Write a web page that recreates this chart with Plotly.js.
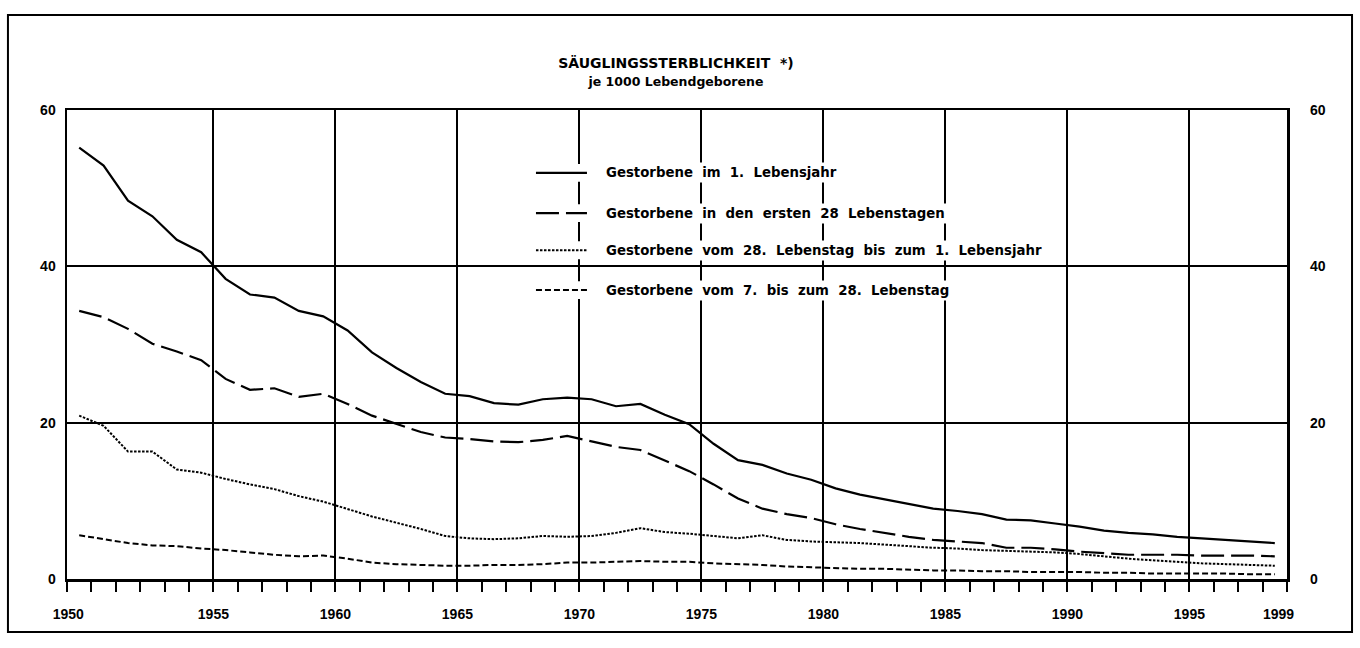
<!DOCTYPE html>
<html>
<head>
<meta charset="utf-8">
<script src="https://cdn.plot.ly/plotly-3.0.1.min.js"></script>
<style>
  html, body { margin: 0; padding: 0; background: #ffffff; }
  #chart { width: 1360px; height: 648px; }
</style>
</head>
<body>
<div id="chart"></div>
<script>
// ---------------- data ----------------
const years = [1950, 1951, 1952, 1953, 1954, 1955, 1956, 1957, 1958, 1959,
               1960, 1961, 1962, 1963, 1964, 1965, 1966, 1967, 1968, 1969,
               1970, 1971, 1972, 1973, 1974, 1975, 1976, 1977, 1978, 1979,
               1980, 1981, 1982, 1983, 1984, 1985, 1986, 1987, 1988, 1989,
               1990, 1991, 1992, 1993, 1994, 1995, 1996, 1997, 1998, 1999];

// Gestorbene im 1. Lebensjahr
const firstYear = [55.2, 52.9, 48.4, 46.4, 43.4, 41.8, 38.4, 36.4, 36.0, 34.3,
                   33.6, 31.8, 29.0, 27.0, 25.2, 23.7, 23.4, 22.5, 22.3, 23.0,
                   23.2, 23.0, 22.1, 22.4, 21.0, 19.8, 17.3, 15.2, 14.6, 13.5,
                   12.7, 11.6, 10.8, 10.2, 9.6, 9.0, 8.7, 8.3, 7.6, 7.5,
                   7.1, 6.7, 6.2, 5.9, 5.7, 5.4, 5.2, 5.0, 4.8, 4.6];

// Gestorbene in den ersten 28 Lebenstagen
const first28Days = [34.3, 33.5, 32.0, 30.1, 29.1, 28.0, 25.6, 24.2, 24.4, 23.3,
                     23.7, 22.4, 20.9, 19.9, 18.8, 18.1, 17.9, 17.6, 17.5, 17.8,
                     18.3, 17.6, 16.9, 16.5, 15.2, 13.8, 12.1, 10.3, 9.0, 8.3,
                     7.8, 7.0, 6.4, 5.9, 5.4, 5.0, 4.8, 4.6, 4.0, 4.0,
                     3.8, 3.5, 3.3, 3.1, 3.1, 3.1, 3.0, 3.0, 3.0, 2.9];

// Gestorbene vom 28. Lebenstag bis zum 1. Lebensjahr
const day28ToYear1 = [20.9, 19.6, 16.3, 16.3, 14.0, 13.6, 12.8, 12.1, 11.5, 10.6,
                      9.9, 8.9, 8.0, 7.2, 6.4, 5.5, 5.2, 5.1, 5.2, 5.5,
                      5.4, 5.5, 5.9, 6.5, 6.0, 5.8, 5.5, 5.2, 5.6, 5.0,
                      4.8, 4.7, 4.6, 4.4, 4.2, 4.0, 3.9, 3.7, 3.6, 3.5,
                      3.4, 3.2, 2.9, 2.6, 2.4, 2.2, 2.0, 1.9, 1.8, 1.7];

// Gestorbene vom 7. bis zum 28. Lebenstag
const day7To28 = [5.6, 5.1, 4.6, 4.3, 4.2, 3.9, 3.7, 3.4, 3.1, 2.9,
                  3.0, 2.6, 2.1, 1.9, 1.8, 1.7, 1.7, 1.8, 1.8, 1.9,
                  2.1, 2.1, 2.2, 2.3, 2.2, 2.2, 2.0, 1.9, 1.8, 1.6,
                  1.5, 1.4, 1.3, 1.3, 1.2, 1.1, 1.1, 1.0, 1.0, 0.9,
                  0.9, 0.9, 0.8, 0.8, 0.7, 0.7, 0.7, 0.7, 0.6, 0.6];

const seriesNames = [
  'Gestorbene\u00a0 im\u00a0 1.\u00a0 Lebensjahr',
  'Gestorbene\u00a0 in\u00a0 den\u00a0 ersten\u00a0 28\u00a0 Lebenstagen',
  'Gestorbene\u00a0 vom\u00a0 28.\u00a0 Lebenstag\u00a0 bis\u00a0 zum\u00a0 1.\u00a0 Lebensjahr',
  'Gestorbene\u00a0 vom\u00a0 7.\u00a0 bis\u00a0 zum\u00a0 28.\u00a0 Lebenstag'
];
const xTickLabels = ['1950', '1955', '1960', '1965', '1970', '1975', '1980', '1985', '1990', '1995', '1999'];
const gridYears = [1955, 1960, 1965, 1970, 1975, 1980, 1985, 1990, 1995];
const yTickValues = [0, 20, 40, 60];
const titleText = 'SÄUGLINGSSTERBLICHKEIT\u00a0 *)';
const subtitleText = 'je 1000 Lebendgeborene';

// ---------------- styles ----------------
const black = '#000000';
const numFont = { family: "'Liberation Sans', Arial, sans-serif", size: 14, color: black, weight: 'bold' };
const textFont = { family: "'DejaVu Sans', 'Liberation Sans', sans-serif", size: 13.3, color: black, weight: 'bold' };
const dashes = ['solid', '23px,7px', '2.5px,1.5px', '6px,3px'];
const widths = [2.2, 2.2, 2, 2];
const seriesValues = [firstYear, first28Days, day28ToYear1, day7To28];

const traces = seriesValues.map((vals, i) => ({
  type: 'scatter', mode: 'lines', x: years, y: vals, name: seriesNames[i],
  line: { color: black, width: widths[i], dash: dashes[i], shape: 'linear' },
  hoverinfo: 'skip', showlegend: false
}));
// helper trace so the overlay axes (bottom labels, right-hand labels) exist
traces.push({ type: 'scatter', mode: 'lines', x: [], y: [], xaxis: 'x2', yaxis: 'y2', showlegend: false, hoverinfo: 'skip' });

const xRange = [years[0] - 0.5, years[years.length - 1] + 0.5];
const boundaries = years.map(y => y - 0.5).concat([years[years.length - 1] + 0.5]);
const labelPos = xTickLabels.map((t, i) => {
  const v = Number(t);
  if (i === 0) return v - 0.45;
  if (i === xTickLabels.length - 1) return v + 0.15;
  return v + 0.5;
});

// ---------------- manual legend ----------------
const legendRowsY = [0.866, 0.780, 0.701, 0.616];
const legendLineX = [0.3844, 0.4262];
const legendTextX = 0.439;
const shapes = [];
const annotations = [];
seriesNames.forEach((name, i) => {
  const yy = legendRowsY[i];
  shapes.push({ type: 'rect', xref: 'paper', yref: 'paper', x0: 0.378, x1: legendTextX + 0.002,
                y0: yy - 0.019, y1: yy + 0.019, fillcolor: '#ffffff', line: { width: 0 }, layer: 'above' });
  shapes.push({ type: 'line', xref: 'paper', yref: 'paper', x0: legendLineX[0], x1: legendLineX[1],
                y0: yy, y1: yy, line: { color: black, width: widths[i], dash: dashes[i] }, layer: 'above' });
  annotations.push({ xref: 'paper', yref: 'paper', x: legendTextX, y: yy, xanchor: 'left', yanchor: 'middle',
                     text: name, showarrow: false, font: textFont, bgcolor: '#ffffff', borderpad: 2 });
});
// outer frame round the whole figure
shapes.push({ type: 'rect', xref: 'paper', yref: 'paper', x0: -0.0484, x1: 1.0533, y0: -0.113, y1: 1.2026,
              line: { color: black, width: 2 }, fillcolor: 'rgba(0,0,0,0)', layer: 'above' });

const layout = {
  width: 1360, height: 648,
  paper_bgcolor: '#ffffff', plot_bgcolor: '#ffffff',
  margin: { l: 67, r: 73, t: 110, b: 69, pad: 0 },
  showlegend: false,
  title: {
    text: '<span style="font-size:14px">' + titleText + '</span><br><span style="font-size:12.5px">' + subtitleText + '</span>',
    x: 0.497, xanchor: 'center', y: 0.895, yanchor: 'middle',
    font: { family: "'DejaVu Sans', 'Liberation Sans', sans-serif", size: 13.5, color: black, weight: 'bold' }
  },
  xaxis: {
    range: xRange, tickmode: 'array', tickvals: gridYears.map(y => y + 0.5),
    showticklabels: false, ticks: '', showgrid: true, gridcolor: black, gridwidth: 2,
    showline: true, mirror: true, linecolor: black, linewidth: 2.5, zeroline: false,
    minor: { tickmode: 'array', tickvals: boundaries, ticks: 'outside', ticklen: 10, tickwidth: 2, tickcolor: black, showgrid: false }
  },
  xaxis2: {
    overlaying: 'x', anchor: 'y', side: 'bottom', range: xRange,
    tickmode: 'array', tickvals: labelPos, ticktext: xTickLabels, tickangle: 0,
    showgrid: false, ticks: '', showline: false, zeroline: false,
    ticklabelstandoff: 25, tickfont: numFont
  },
  yaxis: {
    range: [0, 60], tickmode: 'array', tickvals: yTickValues,
    showgrid: true, gridcolor: black, gridwidth: 2,
    showline: true, mirror: true, linecolor: black, linewidth: 2.5, zeroline: false,
    ticks: '', ticklabelstandoff: 6, tickfont: numFont
  },
  yaxis2: {
    overlaying: 'y', anchor: 'x', side: 'right', range: [0, 60],
    tickmode: 'array', tickvals: yTickValues, showgrid: false, ticks: '',
    showline: false, zeroline: false, ticklabelstandoff: 22, tickfont: numFont
  },
  shapes: shapes,
  annotations: annotations
};

Plotly.newPlot('chart', traces, layout, { displayModeBar: false, staticPlot: true });
</script>
</body>
</html>
